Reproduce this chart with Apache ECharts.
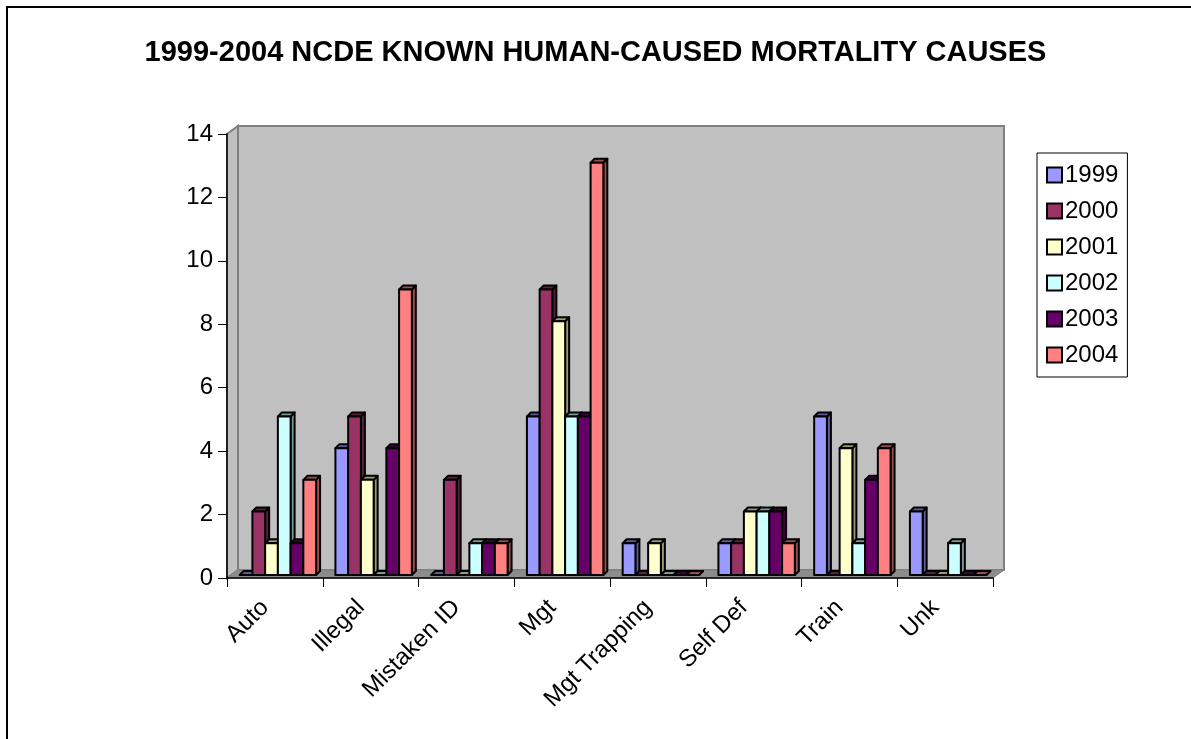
<!DOCTYPE html>
<html>
<head>
<meta charset="utf-8">
<script src="https://cdn.jsdelivr.net/npm/echarts@6/dist/echarts.min.js"></script>
<style>
html,body{margin:0;padding:0;background:#fff;}
#chart{width:1191px;height:739px;}
</style>
</head>
<body>
<div id="chart"></div>
<script>
// ---- data ----
const categories = ['Auto', 'Illegal', 'Mistaken ID', 'Mgt', 'Mgt Trapping', 'Self Def', 'Train', 'Unk'];
const years = ['1999', '2000', '2001', '2002', '2003', '2004'];
const v1999 = [0, 4, 0, 5, 1, 1, 5, 2];
const v2000 = [2, 5, 3, 9, 0, 1, 0, 0];
const v2001 = [1, 3, 0, 8, 1, 2, 4, 0];
const v2002 = [5, 0, 1, 5, 0, 2, 1, 1];
const v2003 = [1, 4, 1, 5, 0, 2, 3, 0];
const v2004 = [3, 9, 1, 13, 0, 1, 4, 0];
const yTicks = [0, 2, 4, 6, 8, 10, 12, 14];
const seriesValues = [v1999, v2000, v2001, v2002, v2003, v2004];

// ---- styling ----
const colors = ['#9999ff', '#993366', '#ffffcc', '#ccffff', '#660066', '#ff8080'];
const FONT = "'Liberation Sans', Arial, sans-serif";
const G = {left: 227, top: 134, width: 766, height: 444};
const DX = 11, DY = -8;        // wall depth offset
const BDX = 4, BDY = -4;       // bar depth
const SHIFT_X = 3, SHIFT_Y = -3;

function shade(hex, f) {
  const n = parseInt(hex.slice(1), 16);
  const r = Math.round(((n >> 16) & 255) * f), g = Math.round(((n >> 8) & 255) * f), b = Math.round((n & 255) * f);
  return 'rgb(' + r + ',' + g + ',' + b + ')';
}

const chart = echarts.init(document.getElementById('chart'));

const series = years.map((y, si) => ({
  name: y,
  type: 'custom',
  itemStyle: {color: colors[si], borderColor: '#000', borderWidth: 2},
  data: categories.map((c, ci) => [ci, seriesValues[si][ci]]),
  renderItem: function (params, api) {
    const ci = api.value(0), v = api.value(1);
    const base = api.coord([ci, 0]);
    const top = api.coord([ci, v]);
    const band = api.size([1, 0])[0];
    const bw = band * 0.133;
    const x0 = base[0] - 3 * bw + si * bw + SHIFT_X;
    const x1 = x0 + bw;
    const yb = base[1] + SHIFT_Y;
    const yt = top[1] + SHIFT_Y;
    const col = colors[si];
    const dark = shade(col, 0.6);
    const st = {stroke: '#000', lineWidth: 2, lineJoin: 'round'};
    return {
      type: 'group',
      children: [
        {type: 'polygon', shape: {points: [[x1, yt], [x1 + BDX, yt + BDY], [x1 + BDX, yb + BDY], [x1, yb]]},
         style: Object.assign({fill: dark}, st)},
        {type: 'polygon', shape: {points: [[x0, yt], [x0 + BDX, yt + BDY], [x1 + BDX, yt + BDY], [x1, yt]]},
         style: Object.assign({fill: dark}, st)},
        {type: 'rect', shape: {x: x0, y: yt, width: bw, height: Math.max(0, yb - yt)},
         style: Object.assign({fill: col}, st), invisible: v === 0}
      ]
    };
  }
}));

const L = G.left, T = G.top, R = G.left + G.width, B = G.top + G.height;
const wallGray = '#c0c0c0', edgeGray = '#808080';

chart.setOption({
  animation: false,
  backgroundColor: '#fff',
  title: {
    text: '1999-2004 NCDE KNOWN HUMAN-CAUSED MORTALITY CAUSES',
    left: 'center', top: 33,
    textStyle: {fontFamily: FONT, fontSize: 29, fontWeight: 'bold', color: '#000'}
  },
  legend: {
    orient: 'vertical',
    left: 1037, top: 153,
    padding: [10, 9, 10, 9],
    borderColor: '#000', borderWidth: 1,
    itemWidth: 15, itemHeight: 15, itemGap: 12,
    icon: 'rect',
    itemStyle: {borderColor: '#000', borderWidth: 2},
    textStyle: {fontFamily: FONT, fontSize: 24, color: '#000', lineHeight: 24, padding: [0, 0, 0, -2]},
    data: years
  },
  graphic: [
    {type: 'rect', shape: {x: 7, y: 7, width: 1300, height: 900}, style: {fill: null, stroke: '#000', lineWidth: 2}, z: -10, silent: true},
    {type: 'polygon', shape: {points: [[L, B], [L, T], [L + DX, T + DY], [L + DX, B + DY]]}, style: {fill: wallGray, stroke: edgeGray, lineWidth: 2}, z: -5, silent: true},
    {type: 'rect', shape: {x: L + DX, y: T + DY, width: G.width, height: G.height}, style: {fill: wallGray, stroke: edgeGray, lineWidth: 2}, z: -5, silent: true},
    {type: 'polygon', shape: {points: [[L, B], [L + DX, B + DY], [R + DX, B + DY], [R, B]]}, style: {fill: '#8c8c8c', stroke: edgeGray, lineWidth: 1}, z: -4, silent: true}
  ],
  grid: {left: G.left, top: G.top, width: G.width, height: G.height, containLabel: false},
  xAxis: {
    type: 'category',
    data: categories,
    boundaryGap: true,
    axisLine: {show: true, lineStyle: {color: '#000', width: 1.5}},
    axisTick: {show: true, length: 9, lineStyle: {color: '#000'}},
    axisLabel: {rotate: 45, margin: 16, padding: [0, 14, 0, 0], fontFamily: FONT, fontSize: 24, color: '#000', interval: 0},
    splitLine: {show: false}
  },
  yAxis: {
    type: 'value',
    min: yTicks[0], max: yTicks[yTicks.length - 1], interval: 2,
    axisLine: {show: true, lineStyle: {color: '#000', width: 1.5}},
    axisTick: {show: true, length: 9, lineStyle: {color: '#000'}},
    axisLabel: {margin: 14, fontFamily: FONT, fontSize: 24, color: '#000'},
    splitLine: {show: false}
  },
  series: series
});
</script>
</body>
</html>
